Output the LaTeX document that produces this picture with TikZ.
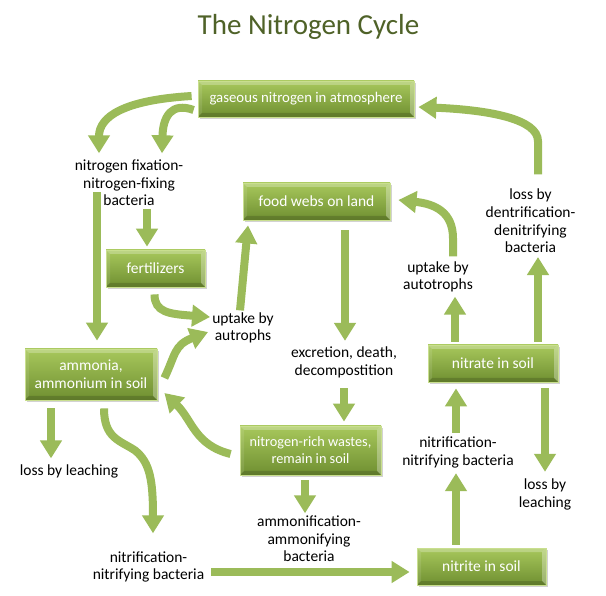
\documentclass[tikz,border=0pt]{standalone}
\usepackage{fontspec}
\setmainfont{Carlito}
\usetikzlibrary{arrows.meta,shadows,calc}
\definecolor{arr}{HTML}{9BBB59}
\definecolor{btop}{HTML}{A8C85C}
\definecolor{bmid}{HTML}{8FB140}
\definecolor{bbot}{HTML}{6F8F31}
\definecolor{bedge}{HTML}{C9DF8F}
\definecolor{ttl}{HTML}{4F6228}
\begin{document}
\begin{tikzpicture}[x=1pt,y=-1pt,
 box/.style={rectangle, inner sep=0pt, top color=btop, middle color=bmid, bottom color=bbot, draw=bedge, line width=0.8pt,
   text=white, align=center, font=\fontsize{15.5}{17.6}\selectfont,
   drop shadow={shadow xshift=1.5pt,shadow yshift=-2pt,opacity=0.35},
   path picture={
     \coordinate (nw) at (path picture bounding box.north west);
     \coordinate (ne) at (path picture bounding box.north east);
     \coordinate (sw) at (path picture bounding box.south west);
     \coordinate (se) at (path picture bounding box.south east);
     \fill[white,opacity=0.25] (nw) -- (ne) -- ($(ne)+(-4,4)$) -- ($(nw)+(4,4)$) -- cycle;
     \fill[white,opacity=0.3] (ne) -- (se) -- ($(se)+(-4,-4)$) -- ($(ne)+(-4,4)$) -- cycle;
     \fill[white,opacity=0.1] (nw) -- (sw) -- ($(sw)+(4,-4)$) -- ($(nw)+(4,4)$) -- cycle;
     \fill[black,opacity=0.15] (sw) -- (se) -- ($(se)+(-4,-4)$) -- ($(sw)+(4,-4)$) -- cycle;
   }},
 lbl/.style={align=center, inner sep=0pt, font=\fontsize{15.5}{17.6}\selectfont},
 flow/.style={draw=arr, line width=8pt, -{Triangle[width=21pt,length=18pt]}}]
\fill[white] (0,0) rectangle (606,596);
\path[use as bounding box] (0,0) rectangle (606,596);

\node[font=\fontsize{29}{32}\selectfont, text=ttl, anchor=base] (title) at (308.5,35) {The Nitrogen Cycle};

% boxes
\node[box, minimum width=216pt, minimum height=36pt, font=\fontsize{14.8}{17.6}\selectfont] (gas) at (306,99) {gaseous nitrogen in atmosphere};
\node[box, minimum width=147pt, minimum height=37pt] (food) at (316.5,201.5) {food webs on land};
\node[box, minimum width=99pt, minimum height=37pt] (fert) at (155.5,268.5) {fertilizers};
\node[box, minimum width=132pt, minimum height=51pt] (amm) at (91,374.5) {ammonia,\\ammonium in soil};
\node[box, minimum width=141pt, minimum height=49pt, font=\fontsize{14.3}{17}\selectfont] (waste) at (310.5,450.5) {nitrogen-rich wastes,\\remain in soil};
\node[box, minimum width=130pt, minimum height=37pt] (nitrate) at (493,363.5) {nitrate in soil};
\node[box, minimum width=129pt, minimum height=37pt] (nitrite) at (481.5,566.5) {nitrite in soil};

% labels
\node[lbl] (fix) at (129,183) {nitrogen fixation-\\nitrogen-fixing\\bacteria};
\node[lbl] (upt1) at (243,328) {uptake by\\autrophs};
\node[lbl] (excr) at (344,362.5) {excretion, death,\\decompostition};
\node[lbl] (upt2) at (438,277) {uptake by\\autotrophs};
\node[lbl] (den) at (530.5,221) {loss by\\dentrification-\\denitrifying\\bacteria};
\node[lbl] (leachL) at (69,471) {loss by leaching};
\node[lbl] (leachR) at (545,494.5) {loss by\\leaching};
\node[lbl] (nitR) at (458,452.5) {nitrification-\\nitrifying bacteria};
\node[lbl] (ammf) at (309,539) {ammonification-\\ammonifying\\bacteria};
\node[lbl] (nitL) at (148.5,567) {nitrification-\\nitrifying bacteria};

% connectors
\draw[flow] ($(gas.west)+(-6,-3)$) .. controls +(-67,4) and +(0,-37) .. ($(fix.north)+(-30,-6.5)$);
\draw[flow] ($(gas.west)+(-4,11)$) .. controls +(-22,-8) and +(1,-37) .. ($(fix.north)+(33,-6.5)$);
\draw[flow] ($(fix.south)+(-32,-14)$) -- ($(amm.north)+(6,-8)$);
\draw[flow] ($(fix.south)+(18,3)$) -- ($(fert.north)+(-8.5,-3)$);
\draw[flow] ($(fert.south)+(-1,7)$) .. controls +(0,18) and +(-41,-3) .. ($(upt1.west)+(-2,-11)$);
\draw[flow] ($(amm.east)+(7,3.5)$) .. controls +(11,-23) and +(-34,13) .. ($(upt1.west)+(-4,4)$);
\draw[flow] ($(upt1.north)+(-3,-2)$) -- ($(food.south)+(-68.5,5)$);
\draw[flow] ($(food.south)+(28.5,10)$) -- ($(excr.north)+(1,-6)$);
\draw[flow] ($(upt2.north)+(15,-5)$) -- +(0,-18) .. controls +(0,-26) and +(37,4) .. ($(food.east)+(8,-1.5)$);
\draw[flow] ($(nitrate.north)+(-38,-3)$) -- ($(upt2.south)+(17,4)$);
\draw[flow] ($(nitrate.north)+(45,-3)$) -- ($(den.south)+(7.5,4)$);
\draw[flow] ($(den.north)+(7.5,-14.7)$) -- +(0,-33) .. controls +(0,-22) and +(72,3) .. ($(gas.east)+(4,8)$);
\draw[flow] ($(amm.south)+(-40,8)$) -- ($(leachL.north)+(-18,-5.7)$);
\draw[flow] ($(amm.south)+(13,8)$) .. controls +(0,30) and +(-15,-10) .. ++(31,42) .. controls +(15,12) and +(0,-53) .. ($(nitL.north)+(4.5,-18)$);
\draw[flow] ($(waste.west)+(-9,3.5)$) .. controls +(-36,-9) and +(28,27) .. ($(amm.east)+(7,18.5)$);
\draw[flow] ($(excr.south)+(0,10)$) -- ($(waste.north)+(33.5,-4)$);
\draw[flow] ($(waste.south)+(-5.5,5)$) -- ($(ammf.north)+(-4,-2.5)$);
\draw[flow] ($(nitL.east)+(7,5)$) -- ($(nitrite.west)+(-7,5.5)$);
\draw[flow] ($(nitrite.north)+(-25.5,-3)$) -- ($(nitR.south)+(-2,5)$);
\draw[flow] ($(nitR.north)+(-2,-4)$) -- ($(nitrate.south)+(-37,6)$);
\draw[flow] ($(nitrate.south)+(52,6)$) -- ($(leachR.north)+(0,-7)$);
\end{tikzpicture}
\end{document}
